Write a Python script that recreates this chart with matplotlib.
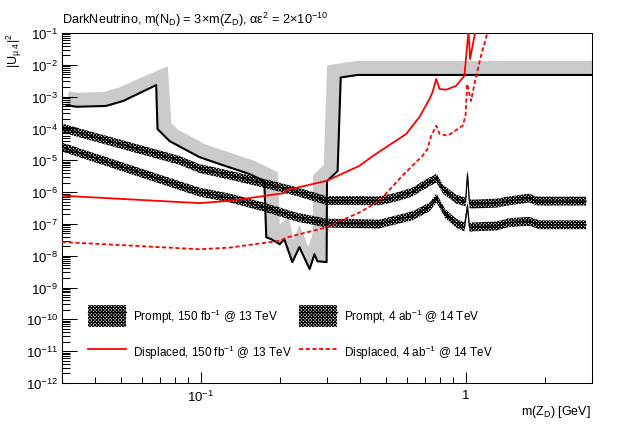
import numpy as np
import matplotlib
matplotlib.use('Agg')
import matplotlib.pyplot as plt
from matplotlib.patches import Patch, PathPatch
from matplotlib.lines import Line2D
from matplotlib.path import Path
from matplotlib.ticker import LogLocator, FixedLocator, FixedFormatter, NullFormatter

plt.rcParams['font.family'] = ['Liberation Sans', 'DejaVu Sans']
plt.rcParams['mathtext.fontset'] = 'custom'
plt.rcParams['mathtext.rm'] = 'Liberation Sans'
plt.rcParams['mathtext.it'] = 'Liberation Sans:italic'
plt.rcParams['mathtext.bf'] = 'Liberation Sans:bold'
plt.rcParams['hatch.linewidth'] = 0.8

# existing limit (black line with grey band)
lim_m = [0.0312, 0.034, 0.044, 0.051, 0.068, 0.0688, 0.0764, 0.099, 0.118, 0.153,
         0.174, 0.177, 0.185, 0.199, 0.207, 0.222, 0.236, 0.258, 0.269, 0.276,
         0.299, 0.300, 0.329, 0.338, 0.391, 3.0]
lim_u = [5.4e-4, 4.8e-4, 5.1e-4, 7.3e-4, 2.3e-3, 9.6e-5, 4.0e-5, 1.26e-5, 7.6e-6, 3.7e-6,
         2.2e-6, 3.8e-8, 3.3e-8, 2.3e-8, 3.3e-8, 6.3e-9, 1.86e-8, 3.8e-9, 1.12e-8, 6.7e-9,
         6.3e-9, 2.2e-6, 4.6e-6, 4.0e-3, 4.8e-3, 4.8e-3]

# prompt, 150 fb-1 @ 13 TeV
p13_m = [0.030, 0.083, 0.099, 0.129, 0.172, 0.230, 0.299, 0.398, 0.473, 0.548, 0.630,
         0.688, 0.777, 0.821, 0.922, 1.000, 1.017, 1.035, 1.06, 1.31, 1.46, 1.74, 1.85,
         1.96, 2.85]
p13_u = [1.03e-4, 1.0e-5, 5.5e-6, 3.4e-6, 1.92e-6, 1.04e-6, 5.4e-7, 5.4e-7, 5.3e-7, 7.0e-7,
         1.0e-6, 1.58e-6, 2.75e-6, 1.24e-6, 6.0e-7, 4.85e-7, 3.7e-6, 4.3e-7, 4.2e-7, 4.5e-7,
         5.3e-7, 6.5e-7, 5.3e-7, 5.2e-7, 5.2e-7]

# prompt, 4 ab-1 @ 14 TeV
p14_m = [0.030, 0.099, 0.129, 0.172, 0.230, 0.299, 0.473, 0.630, 0.731, 0.777, 0.84,
         0.922, 0.99, 1.017, 1.035, 1.06, 1.31, 1.46, 1.74, 1.90, 2.85]
p14_u = [2.6e-5, 1.0e-6, 6.5e-7, 3.45e-7, 1.64e-7, 1.06e-7, 9.9e-8, 1.8e-7, 3.4e-7, 6.5e-7,
         2.04e-7, 1.06e-7, 7.9e-8, 3.6e-7, 7.5e-8, 8.0e-8, 8.6e-8, 1.1e-7, 1.2e-7, 9.4e-8,
         9.4e-8]

# displaced, 150 fb-1 @ 13 TeV
d13_m = [0.030, 0.099, 0.129, 0.207, 0.213, 0.299, 0.398, 0.441, 0.502, 0.597, 0.670,
         0.731, 0.751, 0.775, 0.798, 0.846, 0.922, 0.99, 1.026, 1.04, 1.09]
d13_u = [7.7e-7, 4.5e-7, 5.3e-7, 9.3e-7, 1.18e-6, 2.26e-6, 6.7e-6, 1.26e-5, 2.6e-5, 6.7e-5,
         2.3e-4, 8.4e-4, 1.4e-3, 3.6e-3, 1.73e-3, 1.65e-3, 2.2e-3, 4.5e-3, 0.12, 1.5e-2, 0.12]

# displaced, 4 ab-1 @ 14 TeV
d14_m = [0.030, 0.099, 0.129, 0.199, 0.213, 0.298, 0.398, 0.473, 0.578, 0.688, 0.718,
         0.742, 0.775, 0.798, 0.856, 0.975, 1.0, 1.014, 1.048, 1.09, 1.144, 1.21]
d14_u = [2.7e-8, 1.6e-8, 1.8e-8, 2.95e-8, 3.8e-8, 7.8e-8, 2.3e-7, 5.3e-7, 3.3e-6, 1.39e-5,
         2.25e-5, 5.9e-5, 1.22e-4, 6.7e-5, 5.9e-5, 1.22e-4, 2.5e-4, 2.5e-3, 7.3e-4, 3.6e-3,
         1.93e-2, 0.105]

labels = [r'Prompt, 150 fb$^{-1}$ @ 13 TeV', r'Prompt, 4 ab$^{-1}$ @ 14 TeV',
          r'Displaced, 150 fb$^{-1}$ @ 13 TeV', r'Displaced, 4 ab$^{-1}$ @ 14 TeV']

GREY = '#cbcbcb'
HATCH = 'x' * 10


def side_band(ax, x, y, width_px, color):
    # ROOT-like thick line: band on the left-hand side of the curve (miter joins)
    pts = ax.transData.transform(np.column_stack([x, y]))
    d = np.diff(pts, axis=0)
    ln = np.hypot(d[:, 0], d[:, 1])
    n = np.column_stack([-d[:, 1], d[:, 0]]) / ln[:, None]
    off = np.zeros_like(pts)
    off[0] = pts[0] + n[0] * width_px
    off[-1] = pts[-1] + n[-1] * width_px
    for i in range(1, len(pts) - 1):
        mdir = n[i - 1] + n[i]
        nm = np.hypot(*mdir)
        if nm < 1e-6:
            mdir = n[i]
            nm = 1.0
        mdir = mdir / nm
        L = width_px / max(np.dot(mdir, n[i]), 1e-6)
        L = min(L, 1.6 * width_px)
        off[i] = pts[i] + mdir * L
    poly = np.vstack([pts, off[::-1]])
    poly = ax.transData.inverted().transform(poly)
    codes = [Path.MOVETO] + [Path.LINETO] * (len(poly) - 1)
    ax.add_patch(PathPatch(Path(np.vstack([poly, poly[:1]]), codes + [Path.CLOSEPOLY]),
                           facecolor=color, edgecolor='none', lw=0, zorder=1))


fig = plt.figure(figsize=(6.23, 4.27), dpi=100)
ax = fig.add_axes([62 / 623, 43 / 427, 530 / 623, 350 / 427])
ax.set_xscale('log')
ax.set_yscale('log')
ax.set_xlim(0.03, 3.0)
ax.set_ylim(1e-12, 1e-1)

side_band(ax, lim_m, lim_u, 14, GREY)
ax.plot(lim_m, lim_u, color='black', lw=1.5, zorder=3)

hw = 10 ** 0.14
for m, u in [(p13_m, p13_u), (p14_m, p14_u)]:
    u = np.array(u)
    ax.fill_between(m, u / hw, u * hw, facecolor='none', edgecolor='black',
                    hatch=HATCH, linewidth=0, zorder=2)
    ax.plot(m, u, color='black', lw=0.9, zorder=2.1)

ax.plot(d13_m, d13_u, color='red', lw=1.3, zorder=4)
ax.plot(d14_m, d14_u, color='red', lw=1.3, dashes=(2.3, 1.4), zorder=4)

# ticks
ax.yaxis.set_major_locator(LogLocator(base=10, numticks=20))
ax.yaxis.set_minor_locator(LogLocator(base=10, subs=np.arange(2, 10), numticks=20))
ax.yaxis.set_minor_formatter(NullFormatter())
ax.xaxis.set_major_locator(FixedLocator([0.1, 1.0]))
ax.xaxis.set_major_formatter(FixedFormatter([r'$10^{-1}$', '1']))
ax.xaxis.set_minor_locator(LogLocator(base=10, subs=np.arange(2, 10), numticks=20))
ax.xaxis.set_minor_formatter(NullFormatter())
ax.tick_params(axis='both', which='both', direction='in', width=0.75, labelsize=9.5,
               top=False, right=False)
ax.tick_params(axis='y', which='major', length=10.8, pad=3)
ax.tick_params(axis='y', which='minor', length=5.8)
ax.tick_params(axis='x', which='major', length=7.7, pad=4)
ax.tick_params(axis='x', which='minor', length=4.1)
for s in ax.spines.values():
    s.set_linewidth(0.75)

# legend
hp = Patch(facecolor='none', edgecolor='black', hatch=HATCH, lw=0)
hl = Line2D([], [], color='black', lw=1.0)
h13 = Line2D([], [], color='red', lw=1.3)
h14 = Line2D([], [], color='red', lw=1.3, dashes=(2.3, 1.4))
ax.legend([(hp, hl), h13, (hp, hl), h14], [labels[0], labels[2], labels[1], labels[3]],
          ncol=2, loc='upper left', bbox_to_anchor=(0.049, 0.222), frameon=False,
          fontsize=8.5, handlelength=3.2, handleheight=2.4, handletextpad=0.6,
          columnspacing=0.6, labelspacing=1.3, borderpad=0, borderaxespad=0)

fig.text(62 / 623, 1 - 24 / 427,
         r'DarkNeutrino, m(N$_{\rm D}$) = 3×m(Z$_{\rm D}$), αε$^{2}$ = 2×10$^{-10}$',
         fontsize=9.2, ha='left', va='baseline')
fig.text(14 / 623, 1 - 33 / 427, r'|U$_{\rm μ\ 4}$|$^{2}$', fontsize=9,
         rotation=90, ha='center', va='top')
fig.text(591 / 623, 1 - 415 / 427, r'm(Z$_{\rm D}$) [GeV]', fontsize=9,
         ha='right', va='baseline')

fig.savefig('out.png', dpi=100)
